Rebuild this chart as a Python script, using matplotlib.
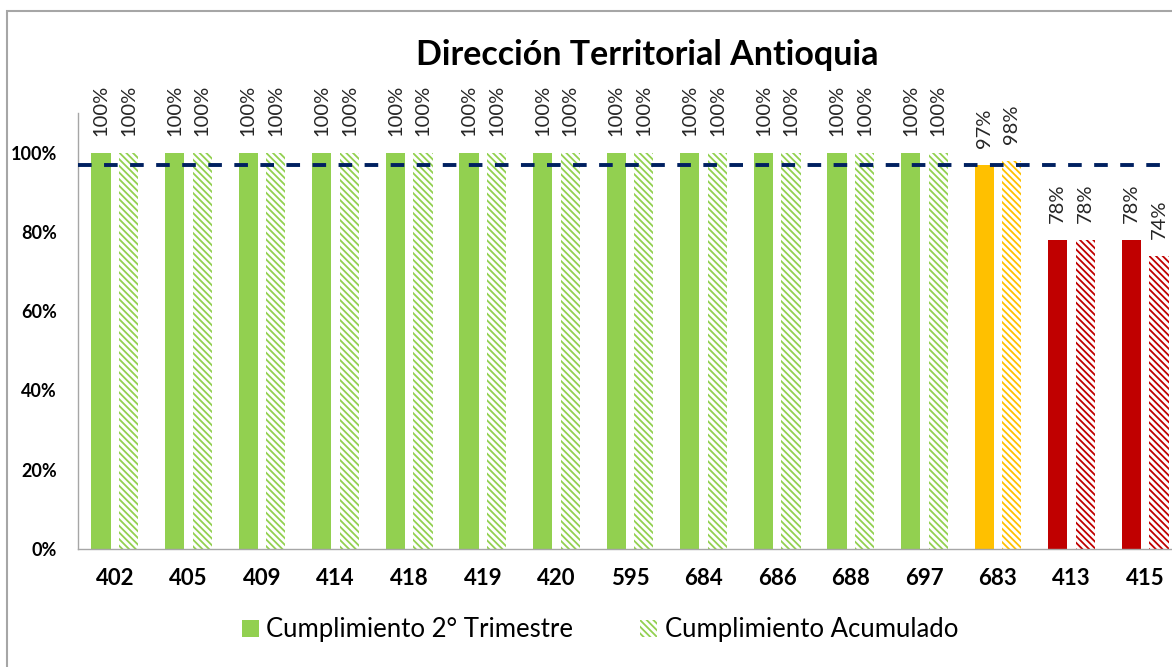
import matplotlib
matplotlib.use("Agg")
import matplotlib.pyplot as plt
from matplotlib.patches import Patch, Rectangle
import numpy as np

plt.rcParams['font.family'] = ['Lato', 'DejaVu Sans']
plt.rcParams['hatch.linewidth'] = 1.3

# data
oficinas = ["402", "405", "409", "414", "418", "419", "420", "595",
            "684", "686", "688", "697", "683", "413", "415"]
trimestre = [100, 100, 100, 100, 100, 100, 100, 100, 100, 100, 100, 100, 97, 78, 78]
acumulado = [100, 100, 100, 100, 100, 100, 100, 100, 100, 100, 100, 100, 98, 78, 74]
colores = ["#92D050"] * 12 + ["#FFC000", "#C00000", "#C00000"]
meta = 97

fig = plt.figure(figsize=(11.72, 6.67), dpi=100)
# axes deliberately runs a little past the right edge, like the original
ax = fig.add_axes([78 / 1172, (667 - 549) / 667, 1104 / 1172, (549 - 113) / 667])

x = np.arange(len(oficinas))
w = 0.26
off = 0.187

ax.bar(x - off, trimestre, width=w, color=colores, linewidth=0)
ax.bar(x + off, acumulado, width=w, color="white", edgecolor=colores,
       hatch="\\\\\\\\\\", linewidth=0)

for xi, v in zip(x - off, trimestre):
    ax.annotate(f"{v}%", (xi, v), xytext=(0, 12), textcoords="offset points",
                rotation=90, ha="center", va="bottom", fontsize=14.5, color="#262626")
for xi, v in zip(x + off, acumulado):
    ax.annotate(f"{v}%", (xi, v), xytext=(0, 12), textcoords="offset points",
                rotation=90, ha="center", va="bottom", fontsize=14.5, color="#262626")

ax.axhline(meta, color="#002060", linestyle=(0, (3.5, 3.2)), linewidth=2.8, zorder=5)

ax.set_xlim(-0.5, len(oficinas) - 0.5)
ax.set_ylim(0, 110)
ax.set_yticks([0, 20, 40, 60, 80, 100])
ax.set_yticklabels([f"{t}%" for t in [0, 20, 40, 60, 80, 100]],
                   fontsize=13, fontweight="bold")
ax.set_xticks(x)
ax.set_xticklabels(oficinas, fontsize=16, fontweight="bold")
ax.tick_params(axis="both", length=0)
ax.tick_params(axis="y", pad=15)
ax.tick_params(axis="x", pad=14)

for s in ["top", "right"]:
    ax.spines[s].set_visible(False)
for s in ["left", "bottom"]:
    ax.spines[s].set_color("#A6A6A6")
    ax.spines[s].set_linewidth(1)

fig.text(647 / 1172, 1 - 55 / 667, "Dirección Territorial Antioquia",
         ha="center", va="center", fontsize=24.5, fontweight="bold")

handles = [Patch(facecolor="#92D050", edgecolor="#92D050", linewidth=0),
           Patch(facecolor="white", edgecolor="#92D050", hatch="\\\\\\\\\\", linewidth=0)]
fig.legend(handles, ["Cumplimiento 2° Trimestre", "Cumplimiento Acumulado"],
           loc="center", bbox_to_anchor=(600 / 1172, 1 - 630 / 667), ncol=2,
           frameon=False, fontsize=18.5, handlelength=0.65, handleheight=0.65,
           handletextpad=0.3, columnspacing=2.6)

fig.patches.append(Rectangle((6.5 / 1172, -0.1), 1.2, 1 - 10.5 / 667 + 0.1,
                             transform=fig.transFigure, fill=False,
                             edgecolor="#A6A6A6", linewidth=1.5))

fig.savefig("out.png", dpi=100)
